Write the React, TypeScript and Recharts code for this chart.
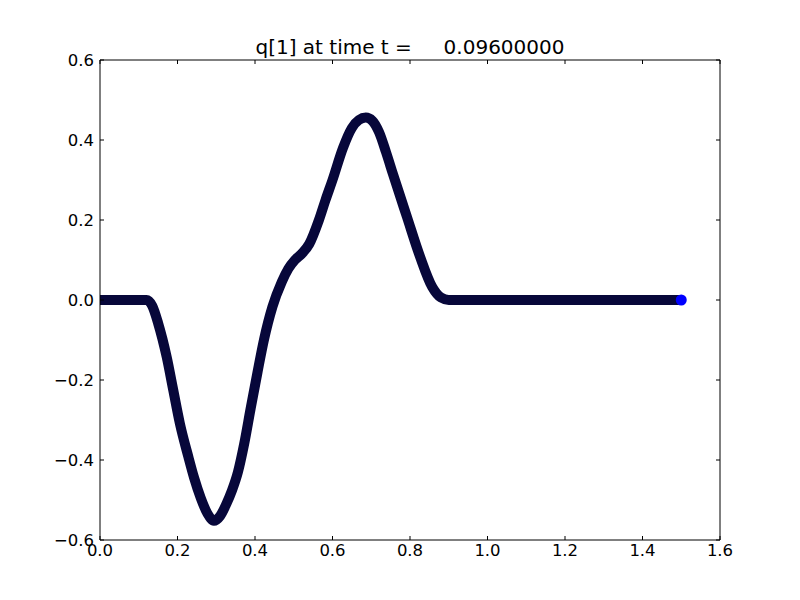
import { ComposedChart, Line, Scatter, XAxis, YAxis } from 'recharts';

// sample positions along x and q[1] values
const xValues = [0, 0.05, 0.1, 0.12, 0.135, 0.15, 0.172, 0.189, 0.206, 0.228, 0.243, 0.26, 0.278, 0.294, 0.31, 0.326, 0.341, 0.356, 0.372, 0.389, 0.406, 0.423, 0.445, 0.469, 0.486, 0.503, 0.52, 0.54, 0.565, 0.582, 0.6, 0.627, 0.65, 0.668, 0.686, 0.703, 0.72, 0.738, 0.756, 0.792, 0.826, 0.857, 0.88, 0.9, 1.0, 1.2, 1.4, 1.5];
const qValues = [0, 0, 0, 0, -0.015, -0.058, -0.142, -0.225, -0.308, -0.392, -0.445, -0.495, -0.535, -0.552, -0.54, -0.51, -0.475, -0.43, -0.36, -0.27, -0.183, -0.1, -0.017, 0.045, 0.078, 0.1, 0.115, 0.14, 0.2, 0.25, 0.3, 0.38, 0.43, 0.45, 0.456, 0.448, 0.42, 0.37, 0.315, 0.208, 0.108, 0.033, 0.006, 0, 0, 0, 0, 0];
const lastPoint = [{ x: 1.5, q: 0 }];

const xTicks = [0, 0.2, 0.4, 0.6, 0.8, 1.0, 1.2, 1.4, 1.6];
const yTicks = [-0.6, -0.4, -0.2, 0, 0.2, 0.4, 0.6];

const data = xValues.map((x, i) => ({ x, q: qValues[i], q2: qValues[i] }));

const fmt = (v: number) => (v < 0 ? '\u2212' + Math.abs(v).toFixed(1) : v.toFixed(1));
const font = 'DejaVu Sans, sans-serif';
const axisStroke = { stroke: '#000', strokeWidth: 1 };

// ticks drawn inward like matplotlib classic
const BottomTick = ({ x, y, payload }: any) => (
  <g>
    <line x1={x} y1={y} x2={x} y2={y - 4} stroke="#000" />
    <text x={x} y={y + 16} textAnchor="middle" fontSize={16.5} fontFamily={font} fill="#000">
      {fmt(payload.value)}
    </text>
  </g>
);
const LeftTick = ({ x, y, payload }: any) => (
  <g>
    <line x1={x} y1={y} x2={x + 4} y2={y} stroke="#000" />
    <text x={x - 6} y={y + 6} textAnchor="end" fontSize={16.5} fontFamily={font} fill="#000">
      {fmt(payload.value)}
    </text>
  </g>
);
const TopTick = ({ x, y }: any) => <line x1={x} y1={y} x2={x} y2={y + 4} stroke="#000" />;
const RightTick = ({ x, y }: any) => <line x1={x} y1={y} x2={x - 4} y2={y} stroke="#000" />;

export default function App() {
  return (
    <div style={{ position: 'absolute', left: 0, top: 0, width: 800, height: 600, background: '#fff' }}>
      <div
        style={{
          position: 'absolute',
          left: 100,
          width: 620,
          top: 35,
          textAlign: 'center',
          fontFamily: font,
          fontSize: 20,
          lineHeight: 'normal',
          whiteSpace: 'pre',
          color: '#000',
        }}
      >
        {'q[1] at time t =     0.09600000'}
      </div>
      <ComposedChart width={800} height={600} data={data} margin={{ top: 59, right: 79, bottom: 0, left: 50 }}>
        <XAxis
          xAxisId="b"
          dataKey="x"
          type="number"
          domain={[0, 1.6]}
          ticks={xTicks}
          height={60}
          tickSize={0}
          tickMargin={0}
          axisLine={axisStroke}
          tickLine={false}
          tick={<BottomTick />}
          allowDataOverflow
        />
        <XAxis
          xAxisId="t"
          dataKey="x"
          orientation="top"
          type="number"
          domain={[0, 1.6]}
          ticks={xTicks}
          height={1}
          tickSize={0}
          tickMargin={0}
          axisLine={axisStroke}
          tickLine={false}
          tick={<TopTick />}
          allowDataOverflow
        />
        <YAxis
          yAxisId="l"
          type="number"
          domain={[-0.6, 0.6]}
          ticks={yTicks}
          width={50}
          tickSize={0}
          tickMargin={0}
          axisLine={axisStroke}
          tickLine={false}
          tick={<LeftTick />}
          allowDataOverflow
        />
        <YAxis
          yAxisId="r"
          orientation="right"
          type="number"
          domain={[-0.6, 0.6]}
          ticks={yTicks}
          width={1}
          tickSize={0}
          tickMargin={0}
          axisLine={axisStroke}
          tickLine={false}
          tick={<RightTick />}
          allowDataOverflow
        />
        {/* invisible series so the top/right axes get drawn */}
        <Line
          xAxisId="t"
          yAxisId="r"
          dataKey="q2"
          stroke="none"
          dot={false}
          activeDot={false}
          isAnimationActive={false}
        />
        <Line
          xAxisId="b"
          yAxisId="l"
          type="monotone"
          dataKey="q"
          stroke="#07073a"
          strokeWidth={10}
          strokeLinecap="butt"
          strokeLinejoin="round"
          dot={false}
          isAnimationActive={false}
        />
        <Scatter
          xAxisId="b"
          yAxisId="l"
          data={lastPoint}
          dataKey="q"
          fill="#0000ff"
          shape={(p: any) => <circle cx={p.cx} cy={p.cy} r={5.5} fill="#0000ff" />}
          isAnimationActive={false}
        />
      </ComposedChart>
    </div>
  );
}
